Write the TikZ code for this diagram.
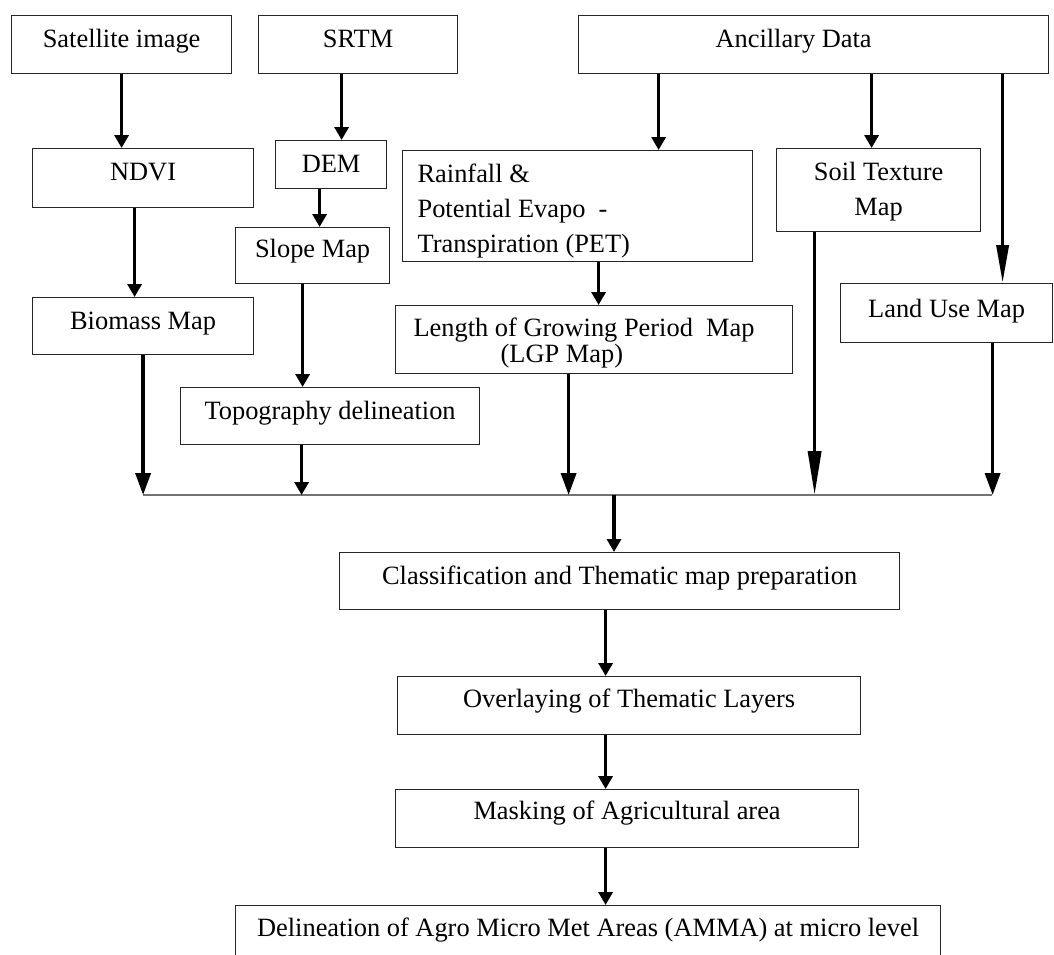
\documentclass[tikz,border=0pt]{standalone}
\usepackage{fontspec}
\setmainfont{Liberation Serif}
\usetikzlibrary{arrows.meta}

\begin{document}
\begin{tikzpicture}[
  x=0.5pt, y=-0.5pt,
  font=\fontsize{13.2}{17.5}\selectfont,
  box/.style={draw=black!85, line width=0.6pt, anchor=north west, inner ysep=0pt, inner xsep=3pt, text height=15.75pt, align=center},
  arr/.style={line width=1.8pt, -{Triangle[length=6.5pt,width=7pt]}},
  arrl/.style={line width=1.8pt, -{Triangle[length=11pt,width=7.5pt]}},
  arrx/.style={line width=1.8pt, -{Triangle[length=22pt,width=6.5pt]}},
  bus/.style={line width=0.8pt, black!55},
]
  \useasboundingbox (0,0) rectangle (1054,954);
  \clip (0,0) rectangle (1054,954);
  \node[box, minimum width=110pt, text depth=13.25pt] (sat) at (11,15) {Satellite image};
  \node[box, minimum width=99.5pt, text depth=13.25pt] (srtm) at (258,15) {SRTM};
  \node[box, minimum width=235pt, text depth=13.25pt] (anc) at (578,15) {Ancillary Data\hspace*{20pt}};
  \node[box, minimum width=110.5pt, text depth=13.75pt] (ndvi) at (32,148) {NDVI};
  \node[box, minimum width=55.5pt, text depth=8.25pt] (dem) at (275,140) {DEM};
  \node[box, minimum width=77pt, text height=14.75pt, text depth=13.25pt] (slope) at (235,227) {Slope Map};
  \node[box, minimum width=175pt, inner xsep=7.5pt, text width=160pt, align=flush left, text depth=39.75pt] (rain) at (402,150)
    {Rainfall \&\\ Potential Evapo\ \ -\\ Transpiration (PET)};
  \node[box, minimum width=102pt, text width=96pt, align=flush center, text depth=25.75pt] (soil) at (776,148) {Soil Texture\\ Map};
  \node[box, minimum width=110.5pt, text depth=12.75pt] (biom) at (32,297) {Biomass Map};
  \node[box, minimum width=149.5pt, text depth=12.75pt] (topo) at (180,387) {Topography delineation};
  \node[box, minimum width=198.5pt, inner xsep=9pt, text width=180.5pt, align=flush left, text height=15.25pt, text depth=18.75pt,
    font=\fontsize{13.2}{13}\selectfont] (lgp) at (395,305)
    {Length of Growing Period\ \ Map\\ \hspace*{43.5pt}(LGP Map)};
  \node[box, minimum width=106pt, text height=16.75pt, text depth=12.75pt] (land) at (840,283) {Land Use Map};
  \node[box, minimum width=280pt, text depth=12.75pt] (class) at (339,552) {Classification and Thematic map preparation};
  \node[box, minimum width=231.5pt, text height=15.25pt, text depth=13.75pt] (over) at (397,676) {Overlaying of Thematic Layers};
  \node[box, minimum width=231.5pt, text height=14.75pt, text depth=14.25pt] (mask) at (395,789) {Masking of Agricultural area};
  \node[box, minimum width=352.5pt, text height=15.25pt, text depth=24.75pt] (delin) at (235,905)
    {Delineation of Agro Micro Met Areas (AMMA) at micro level};
  \coordinate (busL) at (143,495);
  \coordinate (busR) at (992,495);
  \coordinate (busC) at (614,495);
  \draw[bus] (busL) -- (busR);
  \draw[arr] (sat.south) -- (sat.south |- ndvi.north);
  \draw[arr] ([xshift=-8.25pt]srtm.south) -- ([xshift=-8.25pt]srtm.south |- dem.north);
  \draw[arr] ([xshift=-77.5pt]anc.south) -- ([xshift=-77.5pt]anc.south |- rain.north);
  \draw[arr] ([xshift=29pt]anc.south) -- ([xshift=29pt]anc.south |- soil.north);
  \draw[line width=1.8pt, -{Triangle[length=19pt,width=6pt]}] ([xshift=94.5pt]anc.south) -- ([xshift=94.5pt]anc.south |- land.north);
  \draw[arr] ([xshift=-4.25pt]ndvi.south) -- ([xshift=-4.25pt]ndvi.south |- biom.north);
  \draw[arr] ([xshift=-5.75pt]dem.south) -- ([xshift=-5.75pt]dem.south |- slope.north);
  \draw[arr] ([xshift=-5pt]slope.south) -- ([xshift=-5pt]slope.south |- topo.north);
  \draw[arr] ([xshift=10.5pt]rain.south) -- ([xshift=10.5pt]rain.south |- lgp.north);
  \draw[arrl] (biom.south) -- (biom.south |- busL);
  \draw[arr] ([xshift=-14.25pt]topo.south) -- ([xshift=-14.25pt]topo.south |- busL);
  \draw[arrl] ([xshift=-12.75pt]lgp.south) -- ([xshift=-12.75pt]lgp.south |- busL);
  \draw[arrx] ([xshift=-32pt]soil.south) -- ([xshift=-32pt]soil.south |- busL);
  \draw[arrl] ([xshift=23pt]land.south) -- ([xshift=23pt]land.south |- busL);
  \draw[arr] (busC) -- (busC |- class.north);
  \draw[arr] ([xshift=-7pt]class.south) -- ([xshift=-7pt]class.south |- over.north);
  \draw[arr] ([xshift=-11.75pt]over.south) -- ([xshift=-11.75pt]over.south |- mask.north);
  \draw[arr] ([xshift=-10.75pt]mask.south) -- ([xshift=-10.75pt]mask.south |- delin.north);
\end{tikzpicture}
\end{document}
